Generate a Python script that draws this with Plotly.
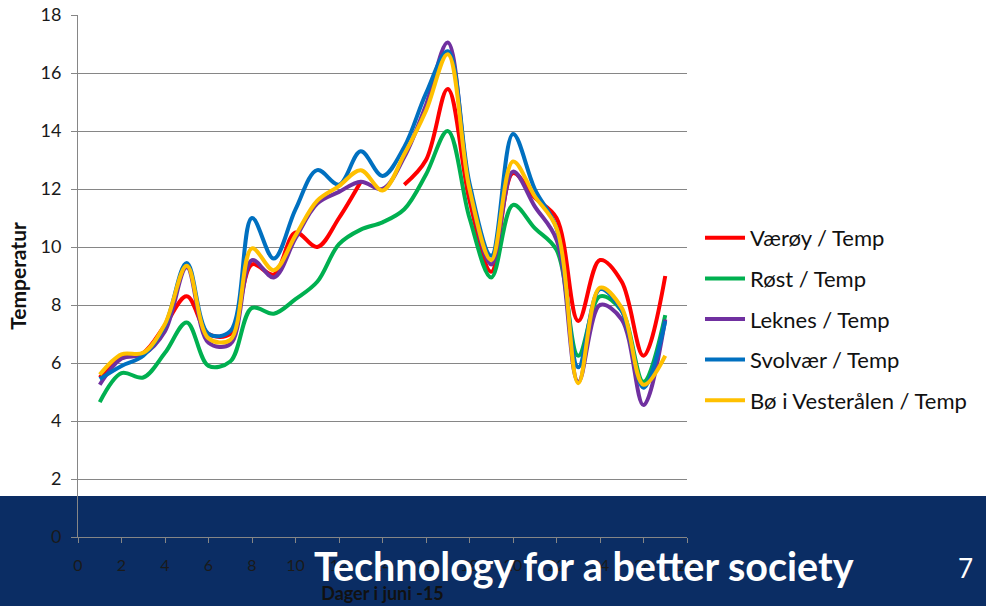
import plotly.graph_objects as go

days = list(range(1, 28))

vaeroy = [5.5, 6.2, 6.35, 7.3, 8.3, 7.0, 7.0, 9.4, 9.05, 10.5, 10.0, 11.0, 12.25, None, 12.15, 13.0, 15.45,
          11.6, 9.15, 12.55, 11.7, 11.0, 7.45, 9.55, 8.8, 6.25, 9.0]
rost = [4.65, 5.65, 5.5, 6.35, 7.4, 5.9, 6.05, 7.9, 7.7, 8.2, 8.8, 10.1, 10.6, 10.85, 11.3, 12.5, 14.0,
        11.0, 8.95, 11.45, 10.65, 9.9, 6.25, 8.3, 7.8, 5.35, 7.65]
leknes = [5.25, 6.15, 6.3, 7.1, 9.3, 6.7, 6.65, 9.55, 8.95, 10.3, 11.5, 11.9, 12.25, 12.0, 13.1, 14.9, 17.05,
          12.0, 9.4, 12.6, 11.4, 10.25, 5.35, 8.0, 7.5, 4.55, 7.5]
svolvaer = [5.45, 5.9, 6.25, 7.3, 9.45, 7.0, 7.1, 11.0, 9.6, 11.3, 12.65, 12.15, 13.3, 12.45, 13.45, 15.3, 16.75,
            12.2, 9.7, 13.9, 12.0, 10.65, 5.85, 8.55, 7.8, 5.15, 7.45]
bo = [5.6, 6.3, 6.35, 7.35, 9.35, 6.85, 6.8, 9.95, 9.2, 10.4, 11.6, 12.1, 12.65, 11.95, 13.2, 14.7, 16.65,
      12.0, 9.55, 12.95, 11.75, 10.65, 5.3, 8.6, 7.9, 5.25, 6.25]

series = [
    ("Værøy / Temp", vaeroy, "#FF0000"),
    ("Røst / Temp", rost, "#00B050"),
    ("Leknes / Temp", leknes, "#7030A0"),
    ("Svolvær / Temp", svolvaer, "#0070C0"),
    ("Bø i Vesterålen / Temp", bo, "#FFC000"),
]

x_ticks = list(range(0, 29, 2))
y_ticks = list(range(0, 19, 2))

FONT = "Lato, 'Open Sans', sans-serif"

fig = go.Figure()
for i, (name, vals, col) in enumerate(series):
    fig.add_trace(go.Scatter(
        x=days, y=vals, name=name, mode="lines",
        line=dict(color=col, width=4, shape="spline", smoothing=1.0),
        connectgaps=False, legendgroup=str(i),
    ))

fig.update_layout(
    width=986, height=606,
    margin=dict(l=78, r=299, t=15, b=69, autoexpand=False),
    paper_bgcolor="white",
    plot_bgcolor="rgba(0,0,0,0)",
    font=dict(family=FONT, color="#222222"),
    showlegend=True,
    legend=dict(
        xref="container", yref="container",
        x=700 / 986, y=1 - 217 / 606, xanchor="left", yanchor="top",
        font=dict(size=22, color="#111111", family=FONT),
        tracegroupgap=9, itemwidth=40, bgcolor="rgba(0,0,0,0)",
    ),
    shapes=[dict(
        type="rect", xref="paper", yref="paper", layer="below",
        x0=-0.2, x1=1.6, y0=-0.2, y1=(537 - 496) / 522,
        fillcolor="#0B2D64", line=dict(width=0),
    )],
    annotations=[
        dict(text="<b>Technology for a better society</b>", xref="paper", yref="paper",
             x=(584 - 78) / 609, y=-(565 - 537) / 522, xanchor="center", yanchor="middle",
             showarrow=False, font=dict(size=39.5, color="white", family=FONT)),
        dict(text="7", xref="paper", yref="paper",
             x=(965 - 78) / 609, y=-(568 - 537) / 522, xanchor="center", yanchor="middle",
             showarrow=False, font=dict(size=26, color="white", family=FONT)),
    ],
)

fig.update_xaxes(
    range=[0, 28], tickvals=x_ticks, ticktext=[str(v) for v in x_ticks],
    showgrid=False, zeroline=False,
    showline=True, linecolor="#868686", linewidth=1,
    ticks="outside", ticklen=5, tickcolor="#868686",
    ticklabelstandoff=9,
    tickfont=dict(size=16, color="#1a1a1a"),
    title=dict(text="<b>Dager i juni -15</b>", font=dict(size=18, color="#111111"), standoff=14),
)
fig.update_yaxes(
    range=[0, 18], tickvals=y_ticks, ticktext=[str(v) for v in y_ticks],
    showgrid=True, gridcolor="#868686", gridwidth=1, zeroline=False,
    showline=True, linecolor="#868686", linewidth=1,
    ticks="outside", ticklen=6, tickcolor="#868686",
    ticklabelstandoff=6,
    tickfont=dict(size=18, color="#1a1a1a"),
    title=dict(text="<b>Temperatur</b>", font=dict(size=21, color="#111111"), standoff=8),
)

fig.write_html("out.html")
